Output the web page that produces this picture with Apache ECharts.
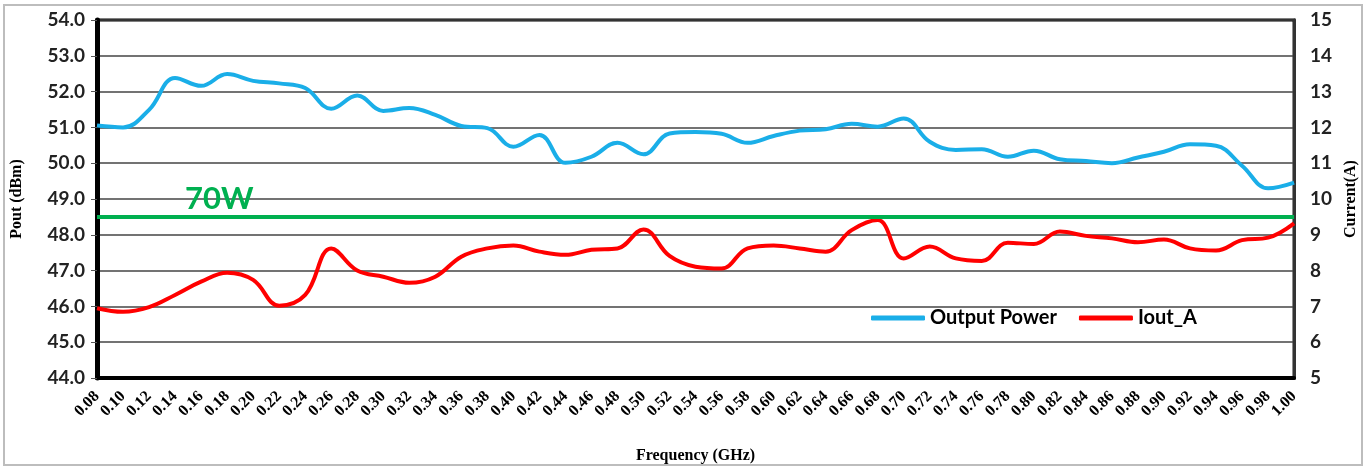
<!DOCTYPE html>
<html>
<head>
<meta charset="utf-8">
<script src="https://cdn.jsdelivr.net/npm/echarts@6/dist/echarts.min.js"></script>
<style>
  html, body { margin: 0; padding: 0; background: #fff; }
  #frame { position: absolute; left: 3px; top: 4px; width: 1360px; height: 462px; border: 2px solid #bdbdbd; box-sizing: border-box; }
  #main { position: absolute; left: 0; top: 0; width: 1367px; height: 470px; }
</style>
</head>
<body>
<div id="frame"></div>
<div id="main"></div>
<script>
  // 频率 (GHz)
  var freq = ['0.08', '0.10', '0.12', '0.14', '0.16', '0.18', '0.20', '0.22', '0.24', '0.26',
    '0.28', '0.30', '0.32', '0.34', '0.36', '0.38', '0.40', '0.42', '0.44', '0.46',
    '0.48', '0.50', '0.52', '0.54', '0.56', '0.58', '0.60', '0.62', '0.64', '0.66',
    '0.68', '0.70', '0.72', '0.74', '0.76', '0.78', '0.80', '0.82', '0.84', '0.86',
    '0.88', '0.90', '0.92', '0.94', '0.96', '0.98', '1.00'];

  // 输出功率 (dBm)
  var outputPower = [51.05, 51.0, 51.49, 52.38, 52.16, 52.49, 52.3, 52.23, 52.1, 51.52,
    51.89, 51.46, 51.54, 51.35, 51.04, 50.98, 50.46, 50.79, 50.01, 50.18,
    50.57, 50.25, 50.83, 50.87, 50.82, 50.57, 50.76, 50.91, 50.95, 51.1,
    51.02, 51.25, 50.6, 50.37, 50.39, 50.18, 50.35, 50.11, 50.06, 50.0,
    50.16, 50.32, 50.53, 50.49, 49.93, 49.3, 49.46];

  // 电流 (A)
  var ioutA = [6.95, 6.85, 6.98, 7.32, 7.69, 7.94, 7.74, 7.02, 7.32, 8.62,
    8.0, 7.83, 7.66, 7.83, 8.39, 8.62, 8.7, 8.53, 8.44, 8.58,
    8.62, 9.15, 8.41, 8.11, 8.06, 8.62, 8.7, 8.62, 8.53, 9.13,
    9.41, 8.34, 8.67, 8.34, 8.27, 8.78, 8.74, 9.09, 8.97, 8.9,
    8.79, 8.87, 8.62, 8.56, 8.85, 8.92, 9.32];

  var limit70W = 48.5;

  var myChart = echarts.init(document.getElementById('main'));

  var option = {
    animation: false,
    grid: {
      left: 97, right: 68, top: 20, bottom: 92,
      show: true, borderColor: '#000', borderWidth: 3
    },
    legend: {
      left: 866, top: 303,
      itemWidth: 54, itemHeight: 5, itemGap: 22,
      icon: 'roundRect',
      textStyle: { fontFamily: 'Lato', fontWeight: 'bold', fontSize: 20, color: '#000' },
      data: ['Output Power', 'Iout_A']
    },
    xAxis: {
      type: 'category',
      data: freq,
      boundaryGap: false,
      name: 'Frequency (GHz)',
      nameLocation: 'middle',
      nameGap: 70,
      nameTextStyle: { fontFamily: 'Liberation Serif', fontWeight: 'bold', fontSize: 16, color: '#000' },
      axisLine: { lineStyle: { color: '#000', width: 4 } },
      axisTick: { show: false },
      axisLabel: {
        interval: 0,
        rotate: 45,
        hideOverlap: false,
        margin: 16,
        fontFamily: 'Liberation Serif', fontWeight: 'bold', fontSize: 16, color: '#000'
      }
    },
    yAxis: [
      {
        type: 'value', min: 44, max: 54, interval: 1,
        name: 'Pout (dBm)',
        nameLocation: 'middle',
        nameGap: 72,
        nameTextStyle: { fontFamily: 'Liberation Serif', fontWeight: 'bold', fontSize: 16, color: '#000' },
        axisLine: { show: true, lineStyle: { color: '#000', width: 5 } },
        axisTick: { show: true, length: 6, lineStyle: { color: '#555' } },
        axisLabel: {
          formatter: function(v) { return v.toFixed(1); },
          fontFamily: 'Lato', fontWeight: 'bold', fontSize: 19, color: '#222', margin: 12
        },
        splitLine: { lineStyle: { color: '#444', width: 1.5 } }
      },
      {
        type: 'value', min: 5, max: 15, interval: 1,
        name: 'Current(A)',
        nameLocation: 'middle',
        nameGap: 48,
        nameRotate: 90,
        nameTextStyle: { fontFamily: 'Liberation Serif', fontWeight: 'bold', fontSize: 16, color: '#000' },
        axisLine: { show: true, lineStyle: { color: '#333', width: 3 } },
        axisTick: { show: false },
        axisLabel: { fontFamily: 'Lato', fontWeight: 'bold', fontSize: 19, color: '#222', margin: 16 },
        splitLine: { show: false }
      }
    ],
    series: [
      {
        name: 'Output Power',
        type: 'line',
        yAxisIndex: 0,
        data: outputPower,
        smooth: 0.4,
        symbol: 'none',
        itemStyle: { color: '#1AAEE8' },
        lineStyle: { color: '#1AAEE8', width: 4 },
        markLine: {
          silent: true,
          symbol: 'none',
          lineStyle: { color: '#00B050', width: 4, type: 'solid' },
          label: {
            formatter: '70W',
            position: 'insideStartTop',
            distance: [88, 2],
            fontFamily: 'Lato', fontWeight: 'bold', fontSize: 31, color: '#00B050'
          },
          data: [{ yAxis: limit70W }]
        }
      },
      {
        name: 'Iout_A',
        type: 'line',
        yAxisIndex: 1,
        data: ioutA,
        smooth: 0.4,
        symbol: 'none',
        itemStyle: { color: '#FF0000' },
        lineStyle: { color: '#FF0000', width: 4 }
      }
    ]
  };

  myChart.setOption(option);
</script>
</body>
</html>
